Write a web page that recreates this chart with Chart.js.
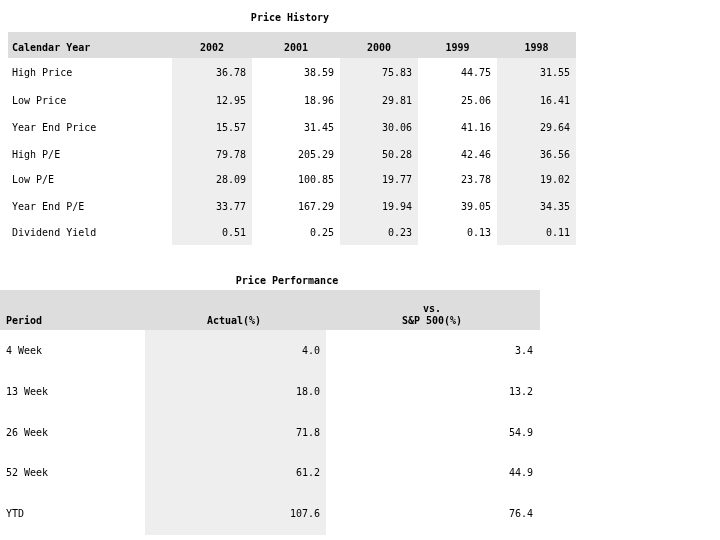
<!DOCTYPE html>
<html>
<head>
<meta charset="utf-8">
<script src="https://cdn.jsdelivr.net/npm/chart.js@4/dist/chart.umd.min.js"></script>
<style>
  body { margin: 0; background: #fff; }
  #wrap { width: 720px; height: 540px; }
</style>
</head>
<body>
<div id="wrap"><canvas id="tabela"></canvas></div>
<script>
// Dados da tabela de histórico de preços
const years = ['2002', '2001', '2000', '1999', '1998'];
const historyRows = ['High Price', 'Low Price', 'Year End Price', 'High P/E', 'Low P/E', 'Year End P/E', 'Dividend Yield'];
const historyValues = [
    ['36.78', '38.59', '75.83', '44.75', '31.55'],
    ['12.95', '18.96', '29.81', '25.06', '16.41'],
    ['15.57', '31.45', '30.06', '41.16', '29.64'],
    ['79.78', '205.29', '50.28', '42.46', '36.56'],
    ['28.09', '100.85', '19.77', '23.78', '19.02'],
    ['33.77', '167.29', '19.94', '39.05', '34.35'],
    ['0.51', '0.25', '0.23', '0.13', '0.11']
];

// Dados da tabela de performance
const periods = ['4 Week', '13 Week', '26 Week', '52 Week', 'YTD'];
const actual = ['4.0', '18.0', '71.8', '61.2', '107.6'];
const vsSP = ['3.4', '13.2', '54.9', '44.9', '76.4'];

// Layout das colunas e linhas
const histCols = [172, 252, 340, 418, 497, 576];
const histRowY = [73, 101, 128, 155, 180, 207, 233];
const perfCols = [145, 326, 540];
const perfRowY = [351, 392, 433, 473, 514];

const font = '10px "DejaVu Sans Mono", monospace';
const shade = '#eeeeee';
const headBg = '#dddddd';

const tablePlugin = {
    id: 'tablePlugin',
    afterDraw(chart) {
        const ctx = chart.ctx;
        const sx = chart.scales.x, sy = chart.scales.y;
        const px = v => sx.getPixelForValue(v);
        const py = v => sy.getPixelForValue(v);
        const rect = (x0, y0, x1, y1, c) => {
            ctx.fillStyle = c;
            ctx.fillRect(px(x0), py(y0), px(x1) - px(x0), py(y1) - py(y0));
        };
        const text = (s, x, y, align, bold) => {
            ctx.fillStyle = '#000';
            ctx.font = (bold ? 'bold ' : '') + font;
            ctx.textAlign = align;
            ctx.textBaseline = 'middle';
            ctx.fillText(s, px(x), py(y));
        };
        ctx.save();

        // Tabela 1
        text('Price History', 290, 18, 'center', true);
        rect(8, 32, 576, 58, headBg);
        for (let i = 0; i < years.length; i += 2) rect(histCols[i], 58, histCols[i + 1], 245, shade);
        text('Calendar Year', 12, 48, 'left', true);
        years.forEach((y, i) => text(y, (histCols[i] + histCols[i + 1]) / 2, 48, 'center', true));
        historyRows.forEach((r, j) => {
            text(r, 12, histRowY[j], 'left');
            historyValues[j].forEach((v, i) => text(v, histCols[i + 1] - 6, histRowY[j], 'right'));
        });

        // Tabela 2
        text('Price Performance', 287, 281, 'center', true);
        rect(0, 290, 540, 330, headBg);
        rect(perfCols[0], 330, perfCols[1], 535, shade);
        text('Period', 6, 321, 'left', true);
        text('Actual(%)', 234, 321, 'center', true);
        text('vs.', 432, 309, 'center', true);
        text('S&P 500(%)', 432, 321, 'center', true);
        periods.forEach((p, j) => {
            text(p, 6, perfRowY[j], 'left');
            text(actual[j], perfCols[1] - 6, perfRowY[j], 'right');
            text(vsSP[j], perfCols[2] - 7, perfRowY[j], 'right');
        });
        ctx.restore();
    }
};

new Chart(document.getElementById('tabela'), {
    type: 'scatter',
    data: { datasets: [{ data: [] }] },
    options: {
        responsive: true,
        maintainAspectRatio: false,
        animation: false,
        layout: { padding: 0 },
        plugins: { legend: { display: false }, tooltip: { enabled: false } },
        scales: {
            x: { type: 'linear', min: 0, max: 720, display: false },
            y: { type: 'linear', min: 0, max: 540, reverse: true, display: false }
        }
    },
    plugins: [tablePlugin]
});
</script>
</body>
</html>
